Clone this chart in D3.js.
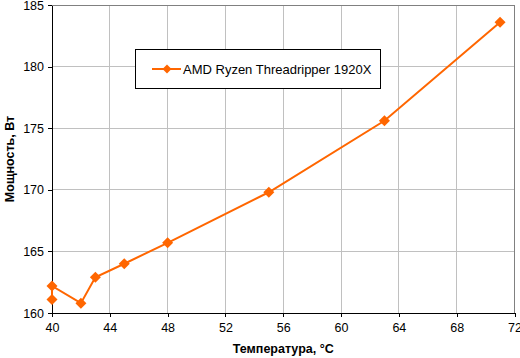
<!DOCTYPE html>
<html><head><meta charset="utf-8">
<script src="https://cdn.jsdelivr.net/npm/d3@7"></script>
<style>body{margin:0;background:#fff}svg{display:block}text{font-family:"Liberation Sans",Arial,sans-serif}</style>
</head><body>
<script>
const temps = [40, 40, 42, 43, 45, 48, 55, 63, 71];
const power = [161.1, 162.2, 160.8, 162.9, 164.0, 165.7, 169.8, 175.6, 183.6];
const xTicks = [40, 44, 48, 52, 56, 60, 64, 68, 72];
const yTicks = [160, 165, 170, 175, 180, 185];
const seriesName = "AMD Ryzen Threadripper 1920X";
const xTitle = "Температура, °C";
const yTitle = "Мощность, Вт";

const W = 520, H = 358;
const L = 52, R = 514.5, T = 5, B = 313;
const svg = d3.select("body").append("svg").attr("width", W).attr("height", H);
const x = d3.scaleLinear().domain([40, 72]).range([L, R]);
const y = d3.scaleLinear().domain([160, 185]).range([B, T]);
const color = "#FF6600";

// grid
svg.append("g").selectAll("line").data(xTicks.slice(1)).join("line")
  .attr("x1", d => x(d)).attr("x2", d => x(d)).attr("y1", T).attr("y2", B)
  .attr("stroke", "#C0C0C0").attr("stroke-width", 1).attr("shape-rendering", "crispEdges");
svg.append("g").selectAll("line").data(yTicks.slice(1)).join("line")
  .attr("x1", L).attr("x2", R).attr("y1", d => y(d)).attr("y2", d => y(d))
  .attr("stroke", "#C0C0C0").attr("stroke-width", 1).attr("shape-rendering", "crispEdges");
// frame top/right
svg.append("path").attr("d", `M${L},${T}H${R}V${B}`).attr("fill", "none")
  .attr("stroke", "#808080").attr("shape-rendering", "crispEdges");

// axes
const xa = svg.append("g").attr("transform", `translate(0,${B})`)
  .call(d3.axisBottom(x).tickValues(xTicks).tickSize(4).tickSizeOuter(0).tickPadding(6));
const ya = svg.append("g").attr("transform", `translate(${L},0)`)
  .call(d3.axisLeft(y).tickValues(yTicks).tickSize(4).tickSizeOuter(0).tickPadding(4));
[xa, ya].forEach(a => {
  a.select(".domain").attr("stroke", "#000").attr("shape-rendering", "crispEdges");
  a.selectAll(".tick line").attr("stroke", "#000").attr("shape-rendering", "crispEdges");
  a.selectAll("text").attr("font-size", 12.5).attr("fill", "#000")
   .attr("font-family", '"Liberation Sans",Arial,sans-serif');
});

// line
const pts = temps.map((t, i) => [t, power[i]]);
svg.append("path").datum(pts)
  .attr("d", d3.line().x(d => x(d[0])).y(d => y(d[1])))
  .attr("fill", "none").attr("stroke", color).attr("stroke-width", 2);
const dia = "M0,-5.5L5.5,0L0,5.5L-5.5,0Z";
svg.append("g").selectAll("path").data(pts).join("path")
  .attr("transform", d => `translate(${x(d[0])},${y(d[1])})`)
  .attr("d", dia).attr("fill", color);

// titles
svg.append("text").attr("x", (L + R) / 2).attr("y", 353).attr("text-anchor", "middle")
  .attr("font-size", 12.5).attr("font-weight", "bold").text(xTitle);
svg.append("text").attr("transform", `translate(14,${(T + B) / 2}) rotate(-90)`)
  .attr("text-anchor", "middle").attr("font-size", 12.5).attr("font-weight", "bold").text(yTitle);

// legend
const lg = svg.append("g");
lg.append("rect").attr("x", 135.5).attr("y", 49.5).attr("width", 245).attr("height", 39)
  .attr("fill", "#fff").attr("stroke", "#000").attr("shape-rendering", "crispEdges");
lg.append("line").attr("x1", 152).attr("x2", 181).attr("y1", 69).attr("y2", 69)
  .attr("stroke", color).attr("stroke-width", 2);
lg.append("path").attr("transform", "translate(167,69)").attr("d", "M0,-4.5L4.5,0L0,4.5L-4.5,0Z").attr("fill", color);
lg.append("text").attr("x", 183).attr("y", 73.5).attr("font-size", 13).text(seriesName);
</script>
</body></html>
